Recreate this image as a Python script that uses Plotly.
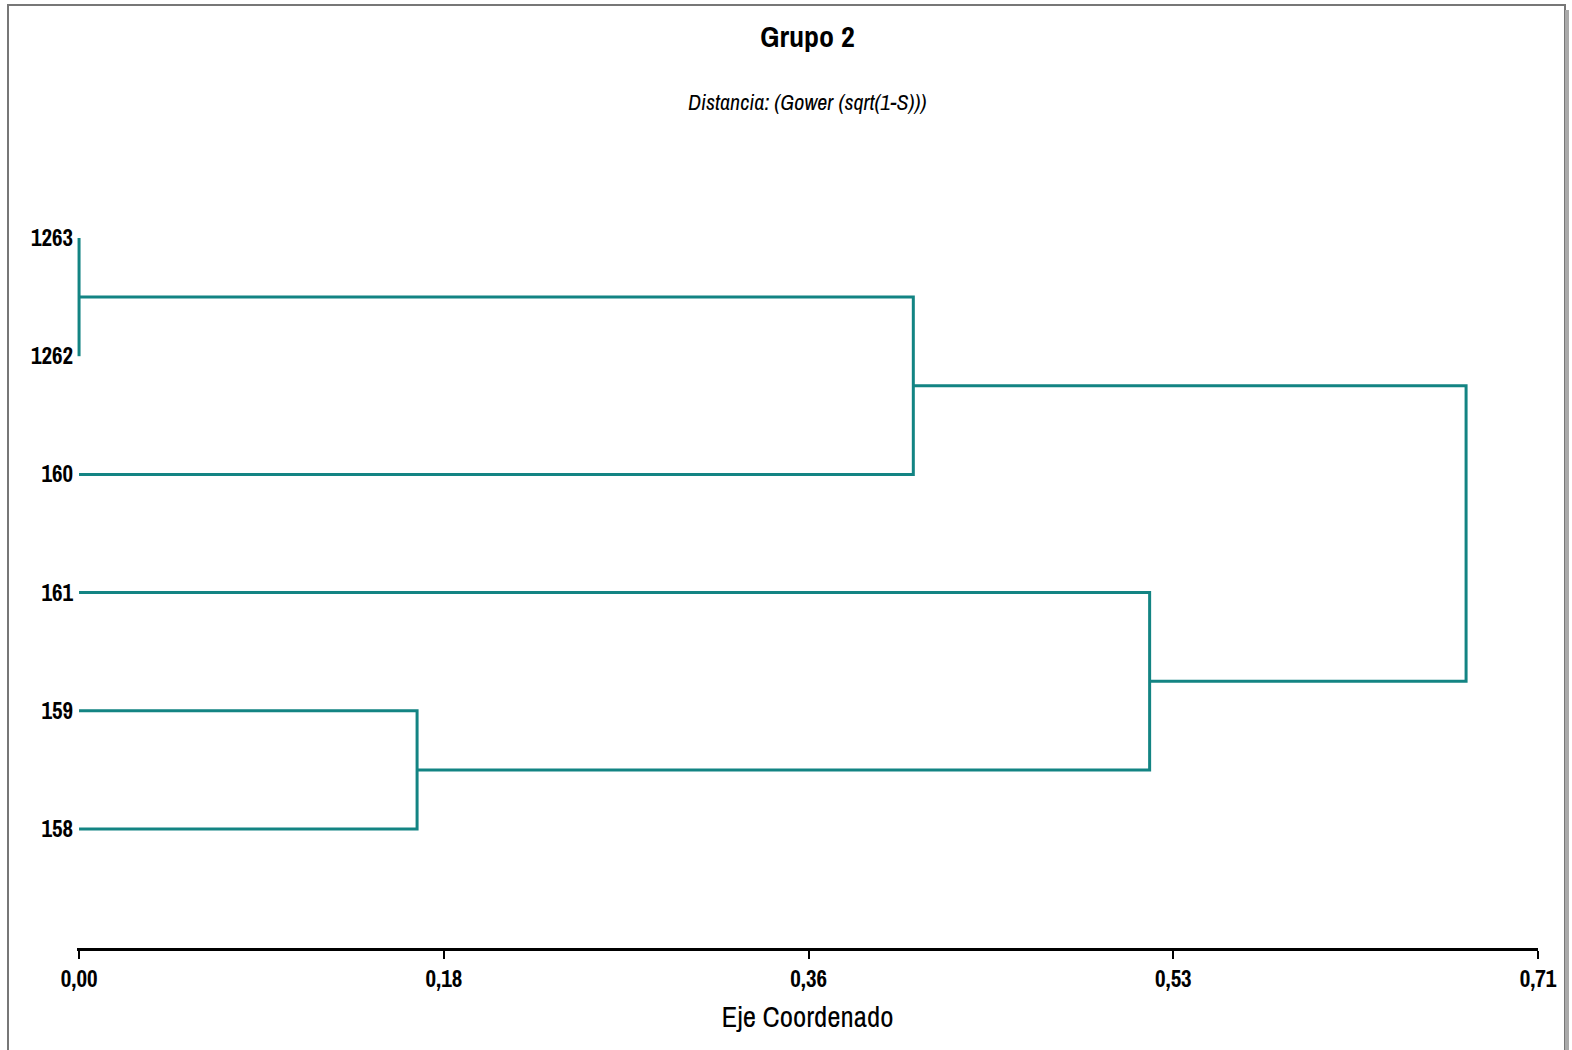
import plotly.graph_objects as go

# ---- data ----
leaf_labels = ["1263", "1262", "160", "161", "159", "158"]  # top to bottom
# linkage: cluster ids 0..5 are leaves, each merge creates id 6, 7, ...
merge_a = [0, 6, 4, 3, 7]
merge_b = [1, 2, 5, 8, 9]
merge_height = [0.0, 0.406, 0.1645, 0.521, 0.675]

tick_vals = [0.0, 0.1775, 0.355, 0.5325, 0.71]
tick_text = ["0,00", "0,18", "0,36", "0,53", "0,71"]

title_text = "Grupo 2"
subtitle_text = "Distancia: (Gower (sqrt(1-S)))"
xaxis_title = "Eje Coordenado"

LINE_COLOR = "#138483"
FONT = "Archivo Narrow, Liberation Sans Narrow, DejaVu Sans Condensed, Liberation Sans"

# ---- build dendrogram geometry ----
n = len(leaf_labels)
pos_y = {i: n - 1 - i for i in range(n)}
pos_h = {i: 0.0 for i in range(n)}

xs, ys = [], []
for k, (a, b, h) in enumerate(zip(merge_a, merge_b, merge_height)):
    ya, yb = pos_y[a], pos_y[b]
    ha, hb = pos_h[a], pos_h[b]
    xs += [ha, h, h, hb, None]
    ys += [ya, ya, yb, yb, None]
    cid = n + k
    pos_y[cid] = (ya + yb) / 2
    pos_h[cid] = h

fig = go.Figure()
fig.add_trace(go.Scatter(
    x=xs, y=ys, mode="lines",
    line=dict(color=LINE_COLOR, width=3),
    hoverinfo="skip", showlegend=False, cliponaxis=False,
))

s = 118.2
L, R = 77, 34
PW = 1572 - L - R
fig.update_layout(
    width=1572, height=1050,
    margin=dict(l=L, r=R, t=130, b=102),
    paper_bgcolor="white", plot_bgcolor="white",
    font=dict(family=FONT, color="black"),
    title=dict(text="<b>" + title_text + "</b>", x=0.5, xref="paper",
               y=1 - 36 / 1050, yanchor="middle",
               font=dict(family=FONT, size=30, color="black")),
    xaxis=dict(
        range=[-0.001, 0.71], tickvals=tick_vals, ticktext=tick_text,
        showgrid=False, zeroline=False,
        showline=True, linecolor="black", linewidth=3,
        ticks="outside", ticklen=8, tickwidth=2, tickcolor="black",
        tickfont=dict(family=FONT, size=23, color="black", weight="bold"),
        title=dict(text=xaxis_title, standoff=15,
                   font=dict(family=FONT, size=29, color="black")),
    ),
    yaxis=dict(
        range=[-(948 - 829) / s, 5 + (238 - 130) / s],
        tickvals=list(range(n)), ticktext=leaf_labels[::-1],
        showgrid=False, zeroline=False, showline=False,
        ticks="", ticklabelstandoff=3,
        tickfont=dict(family=FONT, size=23, color="black", weight="bold"),
    ),
    annotations=[dict(
        text="<i>" + subtitle_text + "</i>", xref="paper", yref="paper",
        x=0.5, y=1 + (130 - 102) / 818, xanchor="center", yanchor="middle",
        showarrow=False, font=dict(family=FONT, size=22, color="black"),
    )],
    shapes=[
        dict(type="rect", xref="paper", yref="paper",
             x0=(8 - L) / PW, x1=(1565 - L) / PW,
             y0=(948 - 1060) / 818, y1=(948 - 5) / 818,
             line=dict(color="#777777", width=2), layer="below"),
        dict(type="line", xref="paper", yref="paper",
             x0=(1567 - L) / PW, x1=(1567 - L) / PW,
             y0=(948 - 1060) / 818, y1=(948 - 10) / 818,
             line=dict(color="#aaaaaa", width=4), layer="below"),
    ],
)

fig.write_html("out.html")
